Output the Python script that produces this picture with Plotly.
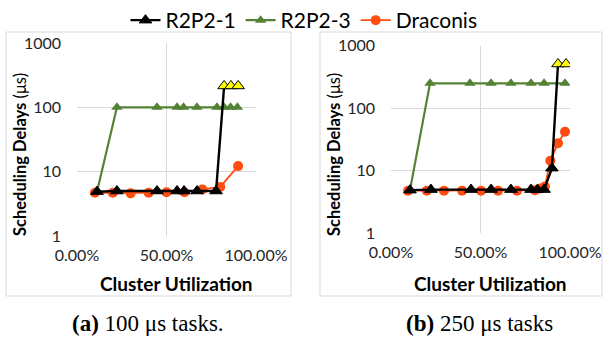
import plotly.graph_objects as go

# ---------------- data ----------------
# (a) 100 us tasks
r2p2_1_a_x = [11.2, 22.3, 44.7, 55.9, 59.8, 67.1, 77.7, 82.2, 86.0, 90.0]
r2p2_1_a_y = [4.9, 5.0, 5.0, 5.0, 5.0, 5.0, 5.0, 215, 215, 215]
r2p2_3_a_x = [11.2, 22.3, 44.7, 55.9, 59.5, 67.0, 78.2, 82.2, 85.8, 89.6]
r2p2_3_a_y = [4.9, 100, 100, 100, 100, 100, 100, 100, 100, 100]
draconis_a_x = [10, 20, 30, 40, 50, 60, 70, 80, 90]
draconis_a_y = [4.7, 4.7, 4.6, 4.7, 4.8, 4.8, 5.3, 5.8, 12.2]

# (b) 250 us tasks
r2p2_1_b_x = [10.6, 22.3, 44.7, 55.9, 67.0, 78.2, 81.8, 85.5, 89.9, 93.3, 97.8]
r2p2_1_b_y = [4.9, 5.0, 5.0, 5.0, 5.0, 5.0, 5.0, 5.0, 11.0, 510, 510]
r2p2_3_b_x = [10.6, 21.8, 44.1, 55.9, 67.0, 78.2, 85.5, 97.2]
r2p2_3_b_y = [4.9, 250, 250, 250, 250, 250, 250, 250]
draconis_b_x = [9.5, 20, 29.6, 39.7, 50.3, 59.8, 70.4, 80.4, 83.5, 86.0, 89.0, 93.3, 97.2]
draconis_b_y = [4.8, 4.8, 4.8, 4.8, 4.8, 4.8, 4.8, 4.9, 5.2, 5.6, 14.5, 27.5, 42]

x_tickvals = [0, 50, 100]
x_ticktext = ["0.00%", "50.00%", "100.00%"]
y_tickvals = [1, 10, 100, 1000]
y_ticktext = ["1", "10", "100", "1000"]

series_names = ["R2P2-1", "R2P2-3", "Draconis"]
captions = ["<b>(a)</b> 100 μs tasks.", "<b>(b)</b> 250 μs tasks"]

# ---------------- styling ----------------
W, H = 608, 339
BLACK = "#000000"
GREEN = "#548235"
ORANGE = "#FF4D12"
YELLOW = "#FFFF00"
GRID = "#D9D9D9"
FONT = "Lato"


def px_x(p):
    return p / W


def px_y(p):
    return 1 - p / H


fig = go.Figure()

panels = [
    dict(xa="x", ya="y", r1=(r2p2_1_a_x, r2p2_1_a_y), r3=(r2p2_3_a_x, r2p2_3_a_y),
         dr=(draconis_a_x, draconis_a_y), n_yellow=3, legend=True),
    dict(xa="x2", ya="y2", r1=(r2p2_1_b_x, r2p2_1_b_y), r3=(r2p2_3_b_x, r2p2_3_b_y),
         dr=(draconis_b_x, draconis_b_y), n_yellow=2, legend=False),
]

for p in panels:
    # Draconis
    fig.add_trace(go.Scatter(
        x=p["dr"][0], y=p["dr"][1], xaxis=p["xa"], yaxis=p["ya"],
        mode="lines+markers", name=series_names[2], showlegend=p["legend"],
        legendrank=3,
        line=dict(color=ORANGE, width=1.8),
        marker=dict(symbol="circle", size=10, color=ORANGE),
    ))
    # R2P2-3
    fig.add_trace(go.Scatter(
        x=p["r3"][0], y=p["r3"][1], xaxis=p["xa"], yaxis=p["ya"],
        mode="lines+markers", name=series_names[1], showlegend=p["legend"],
        legendrank=2,
        line=dict(color=GREEN, width=2.2),
        marker=dict(symbol="triangle-up", size=10, color=GREEN),
    ))
    # R2P2-1
    n = len(p["r1"][0])
    colors = [BLACK] * (n - p["n_yellow"]) + [YELLOW] * p["n_yellow"]
    fig.add_trace(go.Scatter(
        x=p["r1"][0], y=p["r1"][1], xaxis=p["xa"], yaxis=p["ya"],
        mode="lines+markers", name=series_names[0], showlegend=p["legend"],
        legendrank=1,
        line=dict(color=BLACK, width=2.4),
        marker=dict(symbol="triangle-up", size=11, color=colors,
                    line=dict(color=BLACK, width=1)),
    ))

# plot area domains (pixels -> paper)
left_dom_x = [px_x(77), px_x(256)]
left_dom_y = [px_y(236), px_y(43)]
right_dom_x = [px_x(391), px_x(570)]
right_dom_y = [px_y(233.3), px_y(45.7)]

xcommon = dict(range=[0, 100], tickvals=x_tickvals, ticktext=x_ticktext,
               showgrid=True, gridcolor=GRID, gridwidth=1, zeroline=False,
               showline=False, ticks="", ticklabelstandoff=8, automargin=False,
               tickfont=dict(family=FONT, size=16, color="#262626"),
               fixedrange=True)
ycommon = dict(type="log", range=[0, 3], tickvals=y_tickvals, ticktext=y_ticktext,
               showgrid=True, gridcolor=GRID, gridwidth=1, zeroline=False,
               showline=False, ticks="", ticklabelstandoff=15, automargin=False,
               tickfont=dict(family=FONT, size=16, color="#262626"),
               fixedrange=True)

fig.update_layout(
    template="none",
    width=W, height=H, autosize=False,
    margin=dict(l=0, r=0, t=0, b=0, pad=0, autoexpand=False),
    paper_bgcolor="white", plot_bgcolor="white",
    font=dict(family=FONT, color="#000000"),
    xaxis=dict(domain=left_dom_x, anchor="y", **xcommon),
    yaxis=dict(domain=left_dom_y, anchor="x", **ycommon),
    xaxis2=dict(domain=right_dom_x, anchor="y2", **xcommon),
    yaxis2=dict(domain=right_dom_y, anchor="x2", **ycommon),
    legend=dict(orientation="h", xref="container", yref="container",
                x=0.5, xanchor="center", y=1.0, yanchor="top",
                font=dict(family=FONT, size=21, color="#000000"),
                bgcolor="rgba(0,0,0,0)", borderwidth=0, itemwidth=30,
                tracegroupgap=0, traceorder="normal"),
    showlegend=True,
    hovermode=False,
)

# panel borders
for x0, x1 in [(6, 291), (320, 602)]:
    fig.add_shape(type="rect", xref="paper", yref="paper",
                  x0=px_x(x0), x1=px_x(x1), y0=px_y(296), y1=px_y(32),
                  line=dict(color=GRID, width=1), fillcolor="rgba(0,0,0,0)",
                  layer="below")

# axis titles
for cx, ycx in [(176, 20), (490, 334)]:
    fig.add_annotation(text="<b>Cluster Utilization</b>", xref="paper", yref="paper",
                       x=px_x(cx), y=px_y(283), showarrow=False,
                       xanchor="center", yanchor="middle",
                       font=dict(family=FONT, size=19, color="#000000"))
    fig.add_annotation(text="<b>Scheduling Delays</b> (μs)", xref="paper", yref="paper",
                       x=px_x(ycx), y=px_y(155), showarrow=False, textangle=-90,
                       xanchor="center", yanchor="middle",
                       font=dict(family=FONT, size=16.5, color="#000000"))

# captions
for cap, cx in zip(captions, [148, 479]):
    fig.add_annotation(text=cap, xref="paper", yref="paper",
                       x=px_x(cx), y=px_y(323), showarrow=False,
                       xanchor="center", yanchor="middle",
                       font=dict(family="Liberation Serif", size=23, color="#000000"))

fig.write_html(
    "out.html",
    config={"displayModeBar": False, "staticPlot": False},
    post_script="document.body.style.margin='0';document.body.style.padding='0';"
                "document.body.style.overflow='hidden';",
)
